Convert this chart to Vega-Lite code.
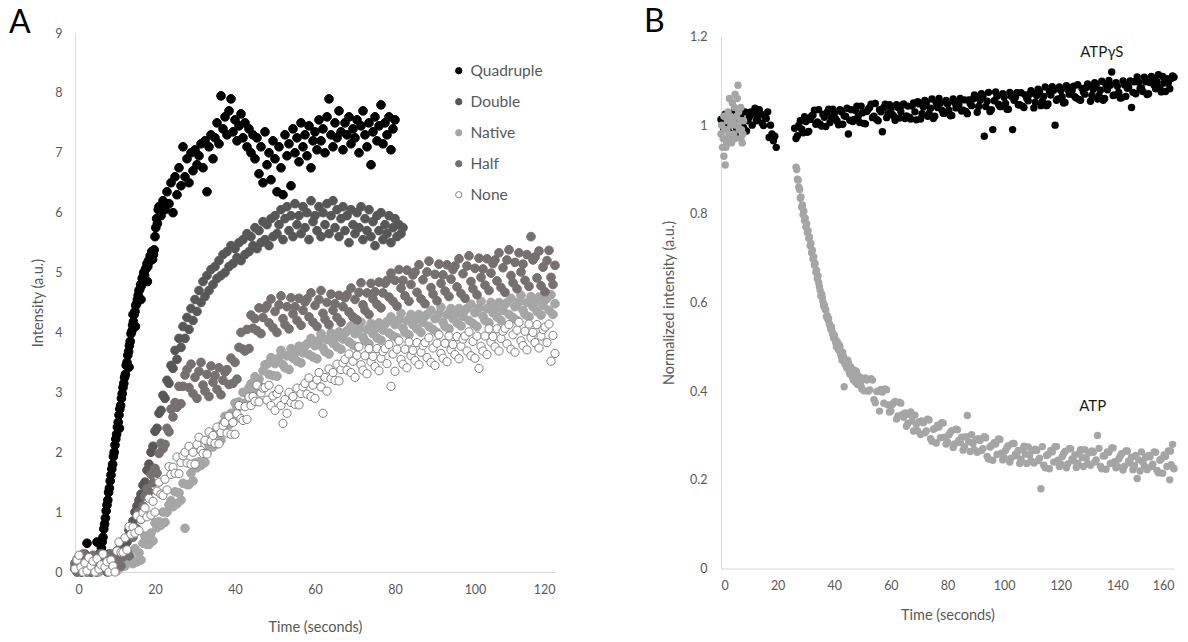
{
"$schema": "https://vega.github.io/schema/vega-lite/v6.json",
"padding": {"left": 9, "top": 5, "right": 0, "bottom": 5},
"background": "white",
"config": {
 "font": "Lato",
 "view": {"stroke": null},
 "axis": {"grid": false, "ticks": false, "domainColor": "#d9d9d9", "domainWidth": 1, "labelColor": "#595959", "titleColor": "#595959", "labelFontSize": 12.5, "titleFontSize": 14.5, "titleFontWeight": "normal", "labelFont": "Lato", "titleFont": "Lato"},
 "legend": {"orient": "none", "legendX": 376, "legendY": 30, "title": null, "labelFont": "Lato", "labelFontSize": 15.5, "labelColor": "#595959", "rowPadding": 14, "symbolSize": 40, "symbolStrokeWidth": 1, "labelOffset": 4, "symbolType": "circle"},
 "title": {"fontSize": 32, "fontWeight": "normal", "color": "#000000", "font": "Lato", "anchor": "start", "frame": "group", "offset": 0}
},
"datasets": {
"Q": [{"t":0,"v":0.05},{"t":0.5,"v":0.02},{"t":1,"v":0.1},{"t":1.5,"v":0},{"t":2,"v":0.08},{"t":2.5,"v":0.03},{"t":3,"v":0.48},{"t":3.5,"v":0.06},{"t":4,"v":0},{"t":4.5,"v":0.1},{"t":5,"v":0.04},{"t":5.5,"v":0.5},{"t":6,"v":0.12},{"t":6.4,"v":0.3},{"t":6.6,"v":0.4},{"t":6.8,"v":0.5},{"t":7.0,"v":0.58},{"t":7.2,"v":0.72},{"t":7.4,"v":0.8},{"t":7.6,"v":0.9},{"t":7.8,"v":1.02},{"t":8.0,"v":1.12},{"t":8.2,"v":1.2},{"t":8.4,"v":1.33},{"t":8.6,"v":1.4},{"t":8.8,"v":1.52},{"t":9.0,"v":1.62},{"t":9.2,"v":1.72},{"t":9.4,"v":1.8},{"t":9.6,"v":1.93},{"t":9.8,"v":2.0},{"t":10.0,"v":2.12},{"t":10.2,"v":2.22},{"t":10.4,"v":2.3},{"t":10.6,"v":2.42},{"t":10.8,"v":2.5},{"t":11.0,"v":2.62},{"t":11.1,"v":2.4},{"t":11.2,"v":2.72},{"t":11.4,"v":2.78},{"t":11.6,"v":2.9},{"t":11.8,"v":2.98},{"t":12.0,"v":3.08},{"t":12.2,"v":3.15},{"t":12.4,"v":3.25},{"t":12.6,"v":3.3},{"t":12.8,"v":3.45},{"t":13.0,"v":3.5},{"t":13.2,"v":3.62},{"t":13.4,"v":3.68},{"t":13.5,"v":3.42},{"t":13.6,"v":3.78},{"t":13.8,"v":3.85},{"t":14.0,"v":3.98},{"t":14.2,"v":4.02},{"t":14.4,"v":4.12},{"t":14.5,"v":4.3},{"t":14.6,"v":4.18},{"t":14.8,"v":4.3},{"t":15.0,"v":4.35},{"t":15.1,"v":4.1},{"t":15.2,"v":4.45},{"t":15.4,"v":4.48},{"t":15.6,"v":4.55},{"t":15.8,"v":4.62},{"t":16.0,"v":4.7},{"t":16.2,"v":4.72},{"t":16.4,"v":4.8},{"t":16.5,"v":4.55},{"t":16.6,"v":4.78},{"t":16.8,"v":4.9},{"t":17.0,"v":4.92},{"t":17.2,"v":5.0},{"t":17.4,"v":4.95},{"t":17.6,"v":5.05},{"t":17.8,"v":5.08},{"t":18.0,"v":5.15},{"t":18.1,"v":4.85},{"t":18.2,"v":5.1},{"t":18.4,"v":5.2},{"t":18.6,"v":5.18},{"t":18.8,"v":5.28},{"t":19.0,"v":5.25},{"t":19.2,"v":5.35},{"t":19.4,"v":5.22},{"t":19.6,"v":5.3},{"t":19.8,"v":5.38},{"t":20.0,"v":5.6},{"t":20.2,"v":5.75},{"t":20.4,"v":5.9},{"t":20.6,"v":5.82},{"t":20.8,"v":6.05},{"t":21,"v":6.1},{"t":21.5,"v":5.95},{"t":22,"v":6.2},{"t":22.5,"v":6.05},{"t":23,"v":6.35},{"t":23.5,"v":6.15},{"t":24,"v":6.5},{"t":24.5,"v":6.0},{"t":25,"v":6.6},{"t":25.5,"v":6.3},{"t":26,"v":6.75},{"t":26.5,"v":6.45},{"t":27,"v":7.1},{"t":27.5,"v":6.6},{"t":28,"v":6.9},{"t":28.5,"v":6.5},{"t":29,"v":7.0},{"t":29.5,"v":6.7},{"t":30,"v":7.05},{"t":30.5,"v":6.8},{"t":31,"v":6.95},{"t":31.5,"v":7.15},{"t":32,"v":6.75},{"t":32.5,"v":7.2},{"t":33,"v":6.35},{"t":33.5,"v":7.1},{"t":34,"v":7.3},{"t":34.5,"v":6.9},{"t":35,"v":7.25},{"t":35.5,"v":7.5},{"t":36,"v":7.15},{"t":36.5,"v":7.95},{"t":37,"v":7.4},{"t":37.5,"v":7.6},{"t":38,"v":7.3},{"t":38.5,"v":7.7},{"t":39,"v":7.9},{"t":39.5,"v":7.35},{"t":40,"v":7.55},{"t":40.5,"v":7.2},{"t":41,"v":7.45},{"t":41.5,"v":7.65},{"t":42,"v":7.25},{"t":42.5,"v":7.5},{"t":43,"v":7.1},{"t":43.5,"v":7.4},{"t":44,"v":7.0},{"t":44.5,"v":7.3},{"t":45,"v":6.9},{"t":45.5,"v":7.25},{"t":46,"v":6.65},{"t":46.5,"v":7.1},{"t":47,"v":6.5},{"t":47.5,"v":7.35},{"t":48,"v":6.8},{"t":48.5,"v":7.0},{"t":49,"v":6.55},{"t":49.5,"v":7.2},{"t":50,"v":6.9},{"t":50.5,"v":6.35},{"t":51,"v":7.1},{"t":51.5,"v":6.75},{"t":52,"v":6.3},{"t":52.5,"v":7.3},{"t":53,"v":6.95},{"t":53.5,"v":7.15},{"t":54,"v":6.45},{"t":54.5,"v":7.4},{"t":55,"v":7.0},{"t":55.5,"v":7.25},{"t":56,"v":6.85},{"t":56.5,"v":7.5},{"t":57,"v":7.1},{"t":57.5,"v":7.3},{"t":58,"v":6.95},{"t":58.5,"v":7.45},{"t":59,"v":6.75},{"t":59.5,"v":7.2},{"t":60,"v":7.35},{"t":60.5,"v":7.05},{"t":61,"v":7.55},{"t":61.5,"v":7.2},{"t":62,"v":7.4},{"t":62.5,"v":7.0},{"t":63,"v":7.6},{"t":63.5,"v":7.9},{"t":64,"v":7.3},{"t":64.5,"v":7.1},{"t":65,"v":7.5},{"t":65.5,"v":7.25},{"t":66,"v":7.7},{"t":66.5,"v":7.35},{"t":67,"v":7.05},{"t":67.5,"v":7.5},{"t":68,"v":7.3},{"t":68.5,"v":7.6},{"t":69,"v":7.15},{"t":69.5,"v":7.4},{"t":70,"v":7.25},{"t":70.5,"v":7.55},{"t":71,"v":7.0},{"t":71.5,"v":7.45},{"t":72,"v":7.7},{"t":72.5,"v":7.3},{"t":73,"v":7.1},{"t":73.5,"v":7.5},{"t":74,"v":6.8},{"t":74.5,"v":7.35},{"t":75,"v":7.6},{"t":75.5,"v":7.2},{"t":76,"v":7.45},{"t":76.5,"v":7.8},{"t":77,"v":7.15},{"t":77.5,"v":7.5},{"t":78,"v":7.3},{"t":78.5,"v":7.6},{"t":79,"v":7.05},{"t":79.5,"v":7.4},{"t":80,"v":7.55}],
"D": [{"t":0,"v":0.1},{"t":0.5,"v":0},{"t":1,"v":0.2},{"t":1.5,"v":0.05},{"t":2,"v":0.15},{"t":2.5,"v":0.3},{"t":3,"v":0},{"t":3.5,"v":0.1},{"t":4,"v":0.25},{"t":4.5,"v":0.05},{"t":5,"v":0.2},{"t":5.5,"v":0},{"t":6,"v":0.3},{"t":6.5,"v":0.1},{"t":7,"v":0.2},{"t":7.5,"v":0.05},{"t":8,"v":0.15},{"t":8.5,"v":0.3},{"t":9,"v":0.1},{"t":9.5,"v":0.25},{"t":10,"v":0.2},{"t":10.5,"v":0.35},{"t":11,"v":0.3},{"t":11.5,"v":0.45},{"t":12,"v":0.4},{"t":12.5,"v":0.55},{"t":13,"v":0.5},{"t":13.5,"v":0.7},{"t":14,"v":0.75},{"t":14.5,"v":0.85},{"t":15,"v":1.0},{"t":15.5,"v":1.1},{"t":16,"v":1.2},{"t":16.5,"v":1.3},{"t":17,"v":1.45},{"t":17.5,"v":1.5},{"t":18,"v":1.7},{"t":18.5,"v":1.8},{"t":19,"v":2.0},{"t":19.5,"v":2.1},{"t":20,"v":2.35},{"t":20.5,"v":2.4},{"t":21,"v":2.65},{"t":21.5,"v":2.7},{"t":22,"v":2.95},{"t":22.5,"v":2.9},{"t":23,"v":3.2},{"t":23.5,"v":3.15},{"t":24,"v":3.45},{"t":24.5,"v":3.4},{"t":25,"v":3.7},{"t":25.5,"v":3.55},{"t":26,"v":3.9},{"t":26.5,"v":3.75},{"t":27,"v":4.1},{"t":27.5,"v":3.9},{"t":28,"v":4.25},{"t":28.5,"v":4.05},{"t":29,"v":4.4},{"t":29.5,"v":4.2},{"t":30,"v":4.55},{"t":30.5,"v":4.35},{"t":31,"v":4.7},{"t":31.5,"v":4.5},{"t":32,"v":4.85},{"t":32.5,"v":4.6},{"t":33,"v":4.95},{"t":33.5,"v":4.7},{"t":34,"v":5.05},{"t":34.5,"v":4.8},{"t":35,"v":5.1},{"t":35.5,"v":4.9},{"t":36,"v":5.2},{"t":36.5,"v":4.95},{"t":37,"v":5.3},{"t":37.5,"v":5.0},{"t":38,"v":5.35},{"t":38.5,"v":5.1},{"t":39,"v":5.45},{"t":39.5,"v":5.15},{"t":40,"v":5.4},{"t":40.5,"v":5.25},{"t":41,"v":5.5},{"t":41.5,"v":5.2},{"t":42,"v":5.55},{"t":42.5,"v":5.3},{"t":43,"v":5.65},{"t":43.5,"v":5.35},{"t":44,"v":5.6},{"t":44.5,"v":5.45},{"t":45,"v":5.75},{"t":45.5,"v":5.4},{"t":46,"v":5.7},{"t":46.5,"v":5.5},{"t":47,"v":5.85},{"t":47.5,"v":5.55},{"t":48,"v":5.8},{"t":48.5,"v":5.45},{"t":49,"v":5.9},{"t":49.5,"v":5.6},{"t":50,"v":5.95},{"t":50.5,"v":5.65},{"t":51,"v":5.8},{"t":51.5,"v":6.05},{"t":52,"v":5.55},{"t":52.5,"v":5.9},{"t":53,"v":6.1},{"t":53.5,"v":5.7},{"t":54,"v":5.95},{"t":54.5,"v":5.6},{"t":55,"v":6.15},{"t":55.5,"v":5.8},{"t":56,"v":5.95},{"t":56.5,"v":5.65},{"t":57,"v":6.1},{"t":57.5,"v":5.75},{"t":58,"v":6.0},{"t":58.5,"v":5.55},{"t":59,"v":6.2},{"t":59.5,"v":5.85},{"t":60,"v":5.95},{"t":60.5,"v":5.7},{"t":61,"v":6.1},{"t":61.5,"v":5.6},{"t":62,"v":6.0},{"t":62.5,"v":5.8},{"t":63,"v":6.15},{"t":63.5,"v":5.65},{"t":64,"v":5.95},{"t":64.5,"v":6.2},{"t":65,"v":5.75},{"t":65.5,"v":6.05},{"t":66,"v":5.6},{"t":66.5,"v":5.9},{"t":67,"v":6.1},{"t":67.5,"v":5.7},{"t":68,"v":5.95},{"t":68.5,"v":5.5},{"t":69,"v":6.05},{"t":69.5,"v":5.8},{"t":70,"v":5.65},{"t":70.5,"v":6.0},{"t":71,"v":5.75},{"t":71.5,"v":6.1},{"t":72,"v":5.55},{"t":72.5,"v":5.9},{"t":73,"v":5.7},{"t":73.5,"v":6.05},{"t":74,"v":5.6},{"t":74.5,"v":5.85},{"t":75,"v":5.45},{"t":75.5,"v":5.95},{"t":76,"v":5.7},{"t":76.5,"v":6.0},{"t":77,"v":5.55},{"t":77.5,"v":5.8},{"t":78,"v":5.65},{"t":78.5,"v":5.95},{"t":79,"v":5.5},{"t":79.5,"v":5.75},{"t":80,"v":5.9},{"t":80.5,"v":5.6},{"t":81,"v":5.8},{"t":81.5,"v":5.65},{"t":82,"v":5.75}],
"N": [{"t":0,"v":0.1},{"t":0.5,"v":0.22},{"t":1,"v":0},{"t":1.5,"v":0.15},{"t":2,"v":0.05},{"t":2.5,"v":0.25},{"t":3,"v":0.1},{"t":3.5,"v":0},{"t":4,"v":0.18},{"t":4.5,"v":0.06},{"t":5,"v":0.22},{"t":5.5,"v":0.12},{"t":6,"v":0},{"t":6.5,"v":0.15},{"t":7,"v":0.08},{"t":7.5,"v":0.24},{"t":8,"v":0.02},{"t":8.5,"v":0.16},{"t":9,"v":0.05},{"t":9.5,"v":0.2},{"t":10,"v":0.1},{"t":10.5,"v":0.02},{"t":11,"v":0.18},{"t":11.5,"v":0.08},{"t":12,"v":0.25},{"t":12.5,"v":0.1},{"t":13,"v":0.2},{"t":13.5,"v":0.3},{"t":14,"v":0.24},{"t":14.5,"v":0.14},{"t":15,"v":0.39},{"t":15.5,"v":0.17},{"t":16,"v":0.32},{"t":16.5,"v":0.2},{"t":17,"v":0.48},{"t":17.5,"v":0.6},{"t":18,"v":0.46},{"t":18.5,"v":0.46},{"t":19,"v":0.65},{"t":19.5,"v":0.52},{"t":20,"v":0.82},{"t":20.5,"v":0.74},{"t":21,"v":0.84},{"t":21.5,"v":0.78},{"t":22,"v":1.0},{"t":22.5,"v":0.83},{"t":23,"v":1.0},{"t":23.5,"v":1.12},{"t":24,"v":1.19},{"t":24.5,"v":1.09},{"t":25,"v":1.34},{"t":25.5,"v":1.14},{"t":26,"v":1.32},{"t":26.5,"v":1.2},{"t":27,"v":1.48},{"t":27.5,"v":0.73},{"t":28,"v":1.46},{"t":28.5,"v":1.46},{"t":29,"v":1.65},{"t":29.5,"v":1.52},{"t":30,"v":1.82},{"t":30.5,"v":1.74},{"t":31,"v":1.84},{"t":31.5,"v":1.78},{"t":32,"v":2.0},{"t":32.5,"v":1.83},{"t":33,"v":2.0},{"t":33.5,"v":2.12},{"t":34,"v":2.19},{"t":34.5,"v":2.09},{"t":35,"v":2.34},{"t":35.5,"v":2.14},{"t":36,"v":2.32},{"t":36.5,"v":2.2},{"t":37,"v":2.48},{"t":37.5,"v":2.6},{"t":38,"v":2.46},{"t":38.5,"v":2.46},{"t":39,"v":2.65},{"t":39.5,"v":2.52},{"t":40,"v":2.82},{"t":40.5,"v":2.74},{"t":41,"v":2.84},{"t":41.5,"v":2.78},{"t":42,"v":3.0},{"t":42.5,"v":2.82},{"t":43,"v":2.98},{"t":43.5,"v":3.08},{"t":44,"v":3.14},{"t":44.5,"v":3.03},{"t":45,"v":3.26},{"t":45.5,"v":3.05},{"t":46,"v":3.22},{"t":46.5,"v":3.09},{"t":47,"v":3.36},{"t":47.5,"v":3.46},{"t":48,"v":3.47},{"t":48.5,"v":3.3},{"t":49,"v":3.58},{"t":49.5,"v":3.28},{"t":50,"v":3.48},{"t":50.5,"v":3.27},{"t":51,"v":3.58},{"t":51.5,"v":3.7},{"t":52,"v":3.46},{"t":52.5,"v":3.41},{"t":53,"v":3.61},{"t":53.5,"v":3.38},{"t":54,"v":3.73},{"t":54.5,"v":3.57},{"t":55,"v":3.65},{"t":55.5,"v":3.52},{"t":56,"v":3.77},{"t":56.5,"v":3.49},{"t":57,"v":3.66},{"t":57.5,"v":3.77},{"t":58,"v":3.81},{"t":58.5,"v":3.63},{"t":59,"v":3.9},{"t":59.5,"v":3.59},{"t":60,"v":3.78},{"t":60.5,"v":3.56},{"t":61,"v":3.87},{"t":61.5,"v":3.98},{"t":62,"v":3.74},{"t":62.5,"v":3.68},{"t":63,"v":3.88},{"t":63.5,"v":3.64},{"t":64,"v":3.99},{"t":64.5,"v":3.82},{"t":65,"v":3.9},{"t":65.5,"v":3.76},{"t":66,"v":4.01},{"t":66.5,"v":3.72},{"t":67,"v":3.89},{"t":67.5,"v":3.99},{"t":68,"v":4.03},{"t":68.5,"v":3.84},{"t":69,"v":4.11},{"t":69.5,"v":3.79},{"t":70,"v":3.98},{"t":70.5,"v":3.76},{"t":71,"v":4.06},{"t":71.5,"v":4.17},{"t":72,"v":3.92},{"t":72.5,"v":3.86},{"t":73,"v":4.05},{"t":73.5,"v":3.81},{"t":74,"v":4.15},{"t":74.5,"v":3.98},{"t":75,"v":4.05},{"t":75.5,"v":3.91},{"t":76,"v":4.16},{"t":76.5,"v":3.87},{"t":77,"v":4.04},{"t":77.5,"v":4.14},{"t":78,"v":4.18},{"t":78.5,"v":3.99},{"t":79,"v":4.26},{"t":79.5,"v":3.94},{"t":80,"v":4.13},{"t":80.5,"v":3.91},{"t":81,"v":4.21},{"t":81.5,"v":4.32},{"t":82,"v":4.07},{"t":82.5,"v":4.0},{"t":83,"v":4.2},{"t":83.5,"v":3.96},{"t":84,"v":4.3},{"t":84.5,"v":4.13},{"t":85,"v":4.2},{"t":85.5,"v":4.06},{"t":86,"v":4.3},{"t":86.5,"v":4.0},{"t":87,"v":4.17},{"t":87.5,"v":4.27},{"t":88,"v":4.3},{"t":88.5,"v":4.1},{"t":89,"v":4.37},{"t":89.5,"v":4.05},{"t":90,"v":4.23},{"t":90.5,"v":4.0},{"t":91,"v":4.31},{"t":91.5,"v":4.42},{"t":92,"v":4.17},{"t":92.5,"v":4.1},{"t":93,"v":4.3},{"t":93.5,"v":4.06},{"t":94,"v":4.4},{"t":94.5,"v":4.23},{"t":95,"v":4.3},{"t":95.5,"v":4.16},{"t":96,"v":4.4},{"t":96.5,"v":4.11},{"t":97,"v":4.27},{"t":97.5,"v":4.37},{"t":98,"v":4.4},{"t":98.5,"v":4.2},{"t":99,"v":4.47},{"t":99.5,"v":4.15},{"t":100,"v":4.33},{"t":100.5,"v":4.1},{"t":101,"v":4.41},{"t":101.5,"v":4.52},{"t":102,"v":4.27},{"t":102.5,"v":4.2},{"t":103,"v":4.4},{"t":103.5,"v":4.16},{"t":104,"v":4.5},{"t":104.5,"v":4.33},{"t":105,"v":4.4},{"t":105.5,"v":4.26},{"t":106,"v":4.5},{"t":106.5,"v":4.2},{"t":107,"v":4.37},{"t":107.5,"v":4.47},{"t":108,"v":4.5},{"t":108.5,"v":4.3},{"t":109,"v":4.57},{"t":109.5,"v":4.25},{"t":110,"v":4.43},{"t":110.5,"v":4.2},{"t":111,"v":4.51},{"t":111.5,"v":4.62},{"t":112,"v":4.37},{"t":112.5,"v":4.3},{"t":113,"v":4.5},{"t":113.5,"v":4.26},{"t":114,"v":4.6},{"t":114.5,"v":4.43},{"t":115,"v":4.5},{"t":115.5,"v":4.35},{"t":116,"v":4.59},{"t":116.5,"v":4.29},{"t":117,"v":4.45},{"t":117.5,"v":4.54},{"t":118,"v":4.57},{"t":118.5,"v":4.37},{"t":119,"v":4.63},{"t":119.5,"v":4.3},{"t":120,"v":4.48}],
"H": [{"t":0,"v":0.15},{"t":0.5,"v":0},{"t":1,"v":0.25},{"t":1.5,"v":0.1},{"t":2,"v":0.3},{"t":2.5,"v":0.05},{"t":3,"v":0.2},{"t":3.5,"v":0.12},{"t":4,"v":0},{"t":4.5,"v":0.28},{"t":5,"v":0.1},{"t":5.5,"v":0.18},{"t":6,"v":0.05},{"t":6.5,"v":0.3},{"t":7,"v":0.12},{"t":7.5,"v":0.22},{"t":8,"v":0},{"t":8.5,"v":0.15},{"t":9,"v":0.3},{"t":9.5,"v":0.08},{"t":10,"v":0.2},{"t":10.5,"v":0.12},{"t":11,"v":0.32},{"t":11.5,"v":0.1},{"t":12,"v":0.25},{"t":12.5,"v":0.35},{"t":13,"v":0.35},{"t":13.5,"v":0.27},{"t":14,"v":0.62},{"t":14.5,"v":0.58},{"t":15,"v":0.74},{"t":15.5,"v":0.72},{"t":16,"v":1.0},{"t":16.5,"v":0.88},{"t":17,"v":1.1},{"t":17.5,"v":1.27},{"t":18,"v":1.39},{"t":18.5,"v":1.34},{"t":19,"v":1.63},{"t":19.5,"v":1.49},{"t":20,"v":1.73},{"t":20.5,"v":1.65},{"t":21,"v":1.98},{"t":21.5,"v":2.15},{"t":22,"v":2.06},{"t":22.5,"v":2.13},{"t":23,"v":2.4},{"t":23.5,"v":2.34},{"t":24,"v":2.72},{"t":24.5,"v":2.59},{"t":25,"v":2.83},{"t":25.5,"v":2.75},{"t":26,"v":3.1},{"t":26.5,"v":2.81},{"t":27,"v":3.1},{"t":27.5,"v":3.29},{"t":28,"v":3.38},{"t":28.5,"v":3.08},{"t":29,"v":3.47},{"t":29.5,"v":2.98},{"t":30,"v":3.25},{"t":30.5,"v":2.9},{"t":31,"v":3.35},{"t":31.5,"v":3.5},{"t":32,"v":3.12},{"t":32.5,"v":3.02},{"t":33,"v":3.3},{"t":33.5,"v":2.93},{"t":34,"v":3.44},{"t":34.5,"v":3.17},{"t":35,"v":3.28},{"t":35.5,"v":3.05},{"t":36,"v":3.41},{"t":36.5,"v":2.96},{"t":37,"v":3.2},{"t":37.5,"v":3.34},{"t":38,"v":3.38},{"t":38.5,"v":3.13},{"t":39,"v":3.57},{"t":39.5,"v":3.15},{"t":40,"v":3.5},{"t":40.5,"v":3.22},{"t":41,"v":3.75},{"t":41.5,"v":4.0},{"t":42,"v":3.72},{"t":42.5,"v":3.69},{"t":43,"v":4.05},{"t":43.5,"v":3.73},{"t":44,"v":4.29},{"t":44.5,"v":4.07},{"t":45,"v":4.23},{"t":45.5,"v":4.03},{"t":46,"v":4.41},{"t":46.5,"v":3.98},{"t":47,"v":4.25},{"t":47.5,"v":4.4},{"t":48,"v":4.45},{"t":48.5,"v":4.16},{"t":49,"v":4.56},{"t":49.5,"v":4.08},{"t":50,"v":4.35},{"t":50.5,"v":4.0},{"t":51,"v":4.46},{"t":51.5,"v":4.61},{"t":52,"v":4.23},{"t":52.5,"v":4.13},{"t":53,"v":4.43},{"t":53.5,"v":4.06},{"t":54,"v":4.58},{"t":54.5,"v":4.31},{"t":55,"v":4.43},{"t":55.5,"v":4.2},{"t":56,"v":4.57},{"t":56.5,"v":4.12},{"t":57,"v":4.37},{"t":57.5,"v":4.51},{"t":58,"v":4.56},{"t":58.5,"v":4.26},{"t":59,"v":4.66},{"t":59.5,"v":4.17},{"t":60,"v":4.45},{"t":60.5,"v":4.1},{"t":61,"v":4.55},{"t":61.5,"v":4.7},{"t":62,"v":4.32},{"t":62.5,"v":4.22},{"t":63,"v":4.5},{"t":63.5,"v":4.13},{"t":64,"v":4.64},{"t":64.5,"v":4.37},{"t":65,"v":4.48},{"t":65.5,"v":4.25},{"t":66,"v":4.62},{"t":66.5,"v":4.17},{"t":67,"v":4.43},{"t":67.5,"v":4.58},{"t":68,"v":4.63},{"t":68.5,"v":4.34},{"t":69,"v":4.74},{"t":69.5,"v":4.26},{"t":70,"v":4.55},{"t":70.5,"v":4.21},{"t":71,"v":4.67},{"t":71.5,"v":4.83},{"t":72,"v":4.46},{"t":72.5,"v":4.37},{"t":73,"v":4.66},{"t":73.5,"v":4.3},{"t":74,"v":4.82},{"t":74.5,"v":4.56},{"t":75,"v":4.68},{"t":75.5,"v":4.47},{"t":76,"v":4.84},{"t":76.5,"v":4.41},{"t":77,"v":4.66},{"t":77.5,"v":4.82},{"t":78,"v":4.87},{"t":78.5,"v":4.59},{"t":79,"v":4.99},{"t":79.5,"v":4.52},{"t":80,"v":4.87},{"t":80.5,"v":4.44},{"t":81,"v":5.05},{"t":81.5,"v":4.74},{"t":82,"v":4.87},{"t":82.5,"v":4.61},{"t":83,"v":5.04},{"t":83.5,"v":4.52},{"t":84,"v":4.8},{"t":84.5,"v":4.96},{"t":85,"v":5.01},{"t":85.5,"v":4.67},{"t":86,"v":5.13},{"t":86.5,"v":4.56},{"t":87,"v":4.88},{"t":87.5,"v":4.48},{"t":88,"v":5.01},{"t":88.5,"v":5.19},{"t":89,"v":4.75},{"t":89.5,"v":4.64},{"t":90,"v":4.97},{"t":90.5,"v":4.53},{"t":91,"v":5.14},{"t":91.5,"v":4.82},{"t":92,"v":4.96},{"t":92.5,"v":4.69},{"t":93,"v":5.13},{"t":93.5,"v":4.6},{"t":94,"v":4.89},{"t":94.5,"v":5.05},{"t":95,"v":5.11},{"t":95.5,"v":4.76},{"t":96,"v":5.23},{"t":96.5,"v":4.65},{"t":97,"v":4.98},{"t":97.5,"v":4.57},{"t":98,"v":5.11},{"t":98.5,"v":5.28},{"t":99,"v":4.85},{"t":99.5,"v":4.73},{"t":100,"v":5.07},{"t":100.5,"v":4.63},{"t":101,"v":5.24},{"t":101.5,"v":4.92},{"t":102,"v":5.06},{"t":102.5,"v":4.79},{"t":103,"v":5.23},{"t":103.5,"v":4.7},{"t":104,"v":4.99},{"t":104.5,"v":5.15},{"t":105,"v":5.21},{"t":105.5,"v":4.86},{"t":106,"v":5.33},{"t":106.5,"v":4.75},{"t":107,"v":5.08},{"t":107.5,"v":4.67},{"t":108,"v":5.21},{"t":108.5,"v":5.38},{"t":109,"v":4.95},{"t":109.5,"v":4.83},{"t":110,"v":5.17},{"t":110.5,"v":4.73},{"t":111,"v":5.33},{"t":111.5,"v":5.01},{"t":112,"v":5.14},{"t":112.5,"v":4.87},{"t":113,"v":5.3},{"t":113.5,"v":4.77},{"t":114,"v":5.6},{"t":114.5,"v":5.21},{"t":115,"v":5.26},{"t":115.5,"v":4.91},{"t":116,"v":5.36},{"t":116.5,"v":4.78},{"t":117,"v":5.09},{"t":117.5,"v":4.68},{"t":118,"v":5.2},{"t":118.5,"v":5.37},{"t":119,"v":4.92},{"t":119.5,"v":4.8},{"t":120,"v":5.12}],
"O": [{"t":0,"v":0.05},{"t":0.5,"v":0.2},{"t":1,"v":0.28},{"t":1.5,"v":0.08},{"t":2,"v":0},{"t":2.5,"v":0.15},{"t":3,"v":0.02},{"t":3.5,"v":0.24},{"t":4,"v":0.1},{"t":4.5,"v":0.18},{"t":5,"v":0},{"t":5.5,"v":0.22},{"t":6,"v":0.05},{"t":6.5,"v":0.12},{"t":7,"v":0.3},{"t":7.5,"v":0.08},{"t":8,"v":0.17},{"t":8.5,"v":0},{"t":9,"v":0.2},{"t":9.5,"v":0.1},{"t":10,"v":0},{"t":10.5,"v":0.35},{"t":11,"v":0.5},{"t":11.5,"v":0.33},{"t":12,"v":0.33},{"t":12.5,"v":0.57},{"t":13,"v":0.37},{"t":13.5,"v":0.76},{"t":14,"v":0.63},{"t":14.5,"v":0.75},{"t":15,"v":0.65},{"t":15.5,"v":0.94},{"t":16,"v":0.69},{"t":16.5,"v":0.88},{"t":17,"v":0.99},{"t":17.5,"v":1.07},{"t":18,"v":0.92},{"t":18.5,"v":1.23},{"t":19,"v":0.95},{"t":19.5,"v":1.18},{"t":20,"v":1.0},{"t":20.5,"v":1.35},{"t":21,"v":1.5},{"t":21.5,"v":1.3},{"t":22,"v":1.28},{"t":22.5,"v":1.55},{"t":23,"v":1.37},{"t":23.5,"v":1.76},{"t":24,"v":1.63},{"t":24.5,"v":1.75},{"t":25,"v":1.65},{"t":25.5,"v":1.92},{"t":26,"v":1.64},{"t":26.5,"v":1.83},{"t":27,"v":1.94},{"t":27.5,"v":2.0},{"t":28,"v":1.82},{"t":28.5,"v":2.1},{"t":29,"v":1.8},{"t":29.5,"v":2.0},{"t":30,"v":1.8},{"t":30.5,"v":2.13},{"t":31,"v":2.25},{"t":31.5,"v":2.03},{"t":32,"v":1.98},{"t":32.5,"v":2.2},{"t":33,"v":1.97},{"t":33.5,"v":2.34},{"t":34,"v":2.18},{"t":34.5,"v":2.28},{"t":35,"v":2.15},{"t":35.5,"v":2.42},{"t":36,"v":2.14},{"t":36.5,"v":2.33},{"t":37,"v":2.44},{"t":37.5,"v":2.5},{"t":38,"v":2.32},{"t":38.5,"v":2.6},{"t":39,"v":2.3},{"t":39.5,"v":2.5},{"t":40,"v":2.3},{"t":40.5,"v":2.64},{"t":41,"v":2.78},{"t":41.5,"v":2.56},{"t":42,"v":2.53},{"t":42.5,"v":2.76},{"t":43,"v":2.55},{"t":43.5,"v":2.92},{"t":44,"v":2.78},{"t":44.5,"v":2.93},{"t":45,"v":2.85},{"t":45.5,"v":3.12},{"t":46,"v":2.84},{"t":46.5,"v":2.99},{"t":47,"v":3.07},{"t":47.5,"v":3.08},{"t":48,"v":2.87},{"t":48.5,"v":3.12},{"t":49,"v":2.78},{"t":49.5,"v":2.94},{"t":50,"v":2.7},{"t":50.5,"v":2.98},{"t":51,"v":3.05},{"t":51.5,"v":2.78},{"t":52,"v":2.48},{"t":52.5,"v":2.88},{"t":53,"v":2.65},{"t":53.5,"v":3.0},{"t":54,"v":2.83},{"t":54.5,"v":2.93},{"t":55,"v":2.8},{"t":55.5,"v":3.07},{"t":56,"v":2.79},{"t":56.5,"v":2.98},{"t":57,"v":3.09},{"t":57.5,"v":3.15},{"t":58,"v":2.97},{"t":58.5,"v":3.24},{"t":59,"v":2.93},{"t":59.5,"v":3.12},{"t":60,"v":2.9},{"t":60.5,"v":3.21},{"t":61,"v":3.33},{"t":61.5,"v":3.09},{"t":62,"v":2.65},{"t":62.5,"v":3.25},{"t":63,"v":3.02},{"t":63.5,"v":3.39},{"t":64,"v":3.23},{"t":64.5,"v":3.33},{"t":65,"v":3.2},{"t":65.5,"v":3.47},{"t":66,"v":3.19},{"t":66.5,"v":3.38},{"t":67,"v":3.49},{"t":67.5,"v":3.55},{"t":68,"v":3.37},{"t":68.5,"v":3.64},{"t":69,"v":3.33},{"t":69.5,"v":3.52},{"t":70,"v":3.25},{"t":70.5,"v":3.62},{"t":71,"v":3.76},{"t":71.5,"v":3.46},{"t":72,"v":3.37},{"t":72.5,"v":3.61},{"t":73,"v":3.31},{"t":73.5,"v":3.73},{"t":74,"v":3.51},{"t":74.5,"v":3.6},{"t":75,"v":3.43},{"t":75.5,"v":3.73},{"t":76,"v":3.36},{"t":76.5,"v":3.57},{"t":77,"v":3.68},{"t":77.5,"v":3.73},{"t":78,"v":3.48},{"t":78.5,"v":3.8},{"t":79,"v":3.1},{"t":79.5,"v":3.64},{"t":80,"v":3.35},{"t":80.5,"v":3.72},{"t":81,"v":3.86},{"t":81.5,"v":3.55},{"t":82,"v":3.47},{"t":82.5,"v":3.72},{"t":83,"v":3.41},{"t":83.5,"v":3.84},{"t":84,"v":3.61},{"t":84.5,"v":3.7},{"t":85,"v":3.53},{"t":85.5,"v":3.83},{"t":86,"v":3.46},{"t":86.5,"v":3.67},{"t":87,"v":3.78},{"t":87.5,"v":3.83},{"t":88,"v":3.58},{"t":88.5,"v":3.91},{"t":89,"v":3.5},{"t":89.5,"v":3.74},{"t":90,"v":3.45},{"t":90.5,"v":3.82},{"t":91,"v":3.96},{"t":91.5,"v":3.65},{"t":92,"v":3.57},{"t":92.5,"v":3.82},{"t":93,"v":3.51},{"t":93.5,"v":3.94},{"t":94,"v":3.71},{"t":94.5,"v":3.8},{"t":95,"v":3.63},{"t":95.5,"v":3.93},{"t":96,"v":3.56},{"t":96.5,"v":3.77},{"t":97,"v":3.89},{"t":97.5,"v":3.94},{"t":98,"v":3.69},{"t":98.5,"v":4.01},{"t":99,"v":3.61},{"t":99.5,"v":3.85},{"t":100,"v":3.57},{"t":100.5,"v":3.94},{"t":101,"v":3.4},{"t":101.5,"v":3.77},{"t":102,"v":3.69},{"t":102.5,"v":3.94},{"t":103,"v":3.63},{"t":103.5,"v":4.06},{"t":104,"v":3.84},{"t":104.5,"v":3.93},{"t":105,"v":3.76},{"t":105.5,"v":4.06},{"t":106,"v":3.69},{"t":106.5,"v":3.9},{"t":107,"v":4.02},{"t":107.5,"v":4.07},{"t":108,"v":3.81},{"t":108.5,"v":4.13},{"t":109,"v":3.72},{"t":109.5,"v":3.96},{"t":110,"v":3.67},{"t":110.5,"v":4.04},{"t":111,"v":4.17},{"t":111.5,"v":3.86},{"t":112,"v":3.78},{"t":112.5,"v":4.02},{"t":113,"v":3.71},{"t":113.5,"v":4.14},{"t":114,"v":3.91},{"t":114.5,"v":4.0},{"t":115,"v":3.83},{"t":115.5,"v":4.13},{"t":116,"v":3.74},{"t":116.5,"v":3.94},{"t":117,"v":4.05},{"t":117.5,"v":4.09},{"t":118,"v":3.83},{"t":118.5,"v":4.14},{"t":119,"v":3.52},{"t":119.5,"v":3.95},{"t":120,"v":3.65}],
"G": [{"t":0,"v":1.013},{"t":0.5,"v":1.0},{"t":1,"v":0.991},{"t":1.5,"v":1.025},{"t":2,"v":1.02},{"t":2.5,"v":0.995},{"t":3,"v":0.983},{"t":3.5,"v":1.015},{"t":4,"v":1.003},{"t":4.5,"v":1.03},{"t":5,"v":0.978},{"t":5.5,"v":0.99},{"t":6,"v":1.011},{"t":6.5,"v":1.025},{"t":7,"v":1.022},{"t":7.5,"v":1.005},{"t":8,"v":0.994},{"t":8.5,"v":1.03},{"t":9,"v":0.987},{"t":9.5,"v":1.01},{"t":10,"v":1.018},{"t":10.5,"v":1.03},{"t":11,"v":1.0},{"t":11.5,"v":1.025},{"t":12,"v":1.038},{"t":12.5,"v":1.01},{"t":13,"v":1.018},{"t":13.5,"v":1.035},{"t":14,"v":1.026},{"t":14.5,"v":1.005},{"t":15,"v":0.999},{"t":15.5,"v":1.02},{"t":16,"v":1.015},{"t":16.5,"v":1.03},{"t":17,"v":0.972},{"t":17.5,"v":1.0},{"t":18,"v":0.98},{"t":18.5,"v":0.965},{"t":19,"v":0.975},{"t":19.5,"v":0.95},{"t":26,"v":0.993},{"t":26.5,"v":0.97},{"t":27,"v":0.976},{"t":27.5,"v":1.0},{"t":28,"v":1.01},{"t":28.5,"v":0.991},{"t":29,"v":0.983},{"t":29.5,"v":1.019},{"t":30,"v":1.008},{"t":30.5,"v":0.984},{"t":31,"v":0.986},{"t":31.5,"v":1.013},{"t":32,"v":1.021},{"t":32.5,"v":1.023},{"t":33,"v":1.034},{"t":33.5,"v":1.002},{"t":34,"v":1.007},{"t":34.5,"v":1.035},{"t":35,"v":1.002},{"t":35.5,"v":0.998},{"t":36,"v":1.024},{"t":36.5,"v":1.018},{"t":37,"v":0.997},{"t":37.5,"v":1.029},{"t":38,"v":1.036},{"t":38.5,"v":1.006},{"t":39,"v":1.017},{"t":39.5,"v":1.036},{"t":40,"v":1.026},{"t":40.5,"v":1.014},{"t":41,"v":1.009},{"t":41.5,"v":1.001},{"t":42,"v":1.035},{"t":42.5,"v":1.03},{"t":43,"v":1.002},{"t":43.5,"v":1.021},{"t":44,"v":1.02},{"t":44.5,"v":1.038},{"t":45,"v":0.98},{"t":45.5,"v":1.011},{"t":46,"v":1.035},{"t":46.5,"v":1.008},{"t":47,"v":1.013},{"t":47.5,"v":1.033},{"t":48,"v":1.043},{"t":48.5,"v":1.02},{"t":49,"v":1.006},{"t":49.5,"v":1.043},{"t":50,"v":1.028},{"t":50.5,"v":1.004},{"t":51,"v":1.003},{"t":51.5,"v":1.031},{"t":52,"v":1.036},{"t":52.5,"v":1.04},{"t":53,"v":1.047},{"t":53.5,"v":1.017},{"t":54,"v":1.02},{"t":54.5,"v":1.049},{"t":55,"v":1.013},{"t":55.5,"v":1.01},{"t":56,"v":1.035},{"t":56.5,"v":1.03},{"t":57,"v":0.985},{"t":57.5,"v":1.04},{"t":58,"v":1.047},{"t":58.5,"v":1.017},{"t":59,"v":1.026},{"t":59.5,"v":1.046},{"t":60,"v":1.036},{"t":60.5,"v":1.024},{"t":61,"v":1.02},{"t":61.5,"v":1.011},{"t":62,"v":1.046},{"t":62.5,"v":1.04},{"t":63,"v":1.016},{"t":63.5,"v":1.031},{"t":64,"v":1.045},{"t":64.5,"v":1.048},{"t":65,"v":1.015},{"t":65.5,"v":1.021},{"t":66,"v":1.043},{"t":66.5,"v":1.018},{"t":67,"v":1.014},{"t":67.5,"v":1.043},{"t":68,"v":1.05},{"t":68.5,"v":1.03},{"t":69,"v":1.012},{"t":69.5,"v":1.053},{"t":70,"v":1.048},{"t":70.5,"v":1.014},{"t":71,"v":1.026},{"t":71.5,"v":1.041},{"t":72,"v":1.056},{"t":72.5,"v":1.05},{"t":73,"v":1.02},{"t":73.5,"v":1.027},{"t":74,"v":1.038},{"t":74.5,"v":1.059},{"t":75,"v":1.015},{"t":75.5,"v":1.02},{"t":76,"v":1.05},{"t":76.5,"v":1.04},{"t":77,"v":1.06},{"t":77.5,"v":1.05},{"t":78,"v":1.034},{"t":78.5,"v":1.027},{"t":79,"v":1.027},{"t":79.5,"v":1.056},{"t":80,"v":1.048},{"t":80.5,"v":1.034},{"t":81,"v":1.021},{"t":81.5,"v":1.022},{"t":82,"v":1.059},{"t":82.5,"v":1.051},{"t":83,"v":1.039},{"t":83.5,"v":1.043},{"t":84,"v":1.046},{"t":84.5,"v":1.06},{"t":85,"v":1.032},{"t":85.5,"v":1.034},{"t":86,"v":1.057},{"t":86.5,"v":1.031},{"t":87,"v":1.026},{"t":87.5,"v":1.057},{"t":88,"v":1.049},{"t":88.5,"v":1.044},{"t":89,"v":1.059},{"t":89.5,"v":1.068},{"t":90,"v":1.063},{"t":90.5,"v":1.029},{"t":91,"v":1.042},{"t":91.5,"v":1.056},{"t":92,"v":1.071},{"t":92.5,"v":1.065},{"t":93,"v":0.975},{"t":93.5,"v":1.042},{"t":94,"v":1.054},{"t":94.5,"v":1.074},{"t":95,"v":1.031},{"t":95.5,"v":1.035},{"t":96,"v":0.99},{"t":96.5,"v":1.055},{"t":97,"v":1.075},{"t":97.5,"v":1.065},{"t":98,"v":1.047},{"t":98.5,"v":1.042},{"t":99,"v":1.042},{"t":99.5,"v":1.071},{"t":100,"v":1.063},{"t":100.5,"v":1.049},{"t":101,"v":1.036},{"t":101.5,"v":1.036},{"t":102,"v":1.074},{"t":102.5,"v":1.065},{"t":103,"v":0.99},{"t":103.5,"v":1.056},{"t":104,"v":1.063},{"t":104.5,"v":1.073},{"t":105,"v":1.046},{"t":105.5,"v":1.046},{"t":106,"v":1.073},{"t":106.5,"v":1.043},{"t":107,"v":1.04},{"t":107.5,"v":1.068},{"t":108,"v":1.06},{"t":108.5,"v":1.055},{"t":109,"v":1.07},{"t":109.5,"v":1.078},{"t":110,"v":1.073},{"t":110.5,"v":1.039},{"t":111,"v":1.052},{"t":111.5,"v":1.067},{"t":112,"v":1.081},{"t":112.5,"v":1.076},{"t":113,"v":1.044},{"t":113.5,"v":1.054},{"t":114,"v":1.065},{"t":114.5,"v":1.086},{"t":115,"v":1.044},{"t":115.5,"v":1.048},{"t":116,"v":1.076},{"t":116.5,"v":1.068},{"t":117,"v":1.087},{"t":117.5,"v":1.079},{"t":118,"v":1.0},{"t":118.5,"v":1.056},{"t":119,"v":1.059},{"t":119.5,"v":1.086},{"t":120,"v":1.078},{"t":120.5,"v":1.064},{"t":121,"v":1.05},{"t":121.5,"v":1.051},{"t":122,"v":1.089},{"t":122.5,"v":1.08},{"t":123,"v":1.07},{"t":123.5,"v":1.071},{"t":124,"v":1.078},{"t":124.5,"v":1.088},{"t":125,"v":1.064},{"t":125.5,"v":1.061},{"t":126,"v":1.091},{"t":126.5,"v":1.058},{"t":127,"v":1.056},{"t":127.5,"v":1.083},{"t":128,"v":1.075},{"t":128.5,"v":1.07},{"t":129,"v":1.085},{"t":129.5,"v":1.093},{"t":130,"v":1.088},{"t":130.5,"v":1.054},{"t":131,"v":1.067},{"t":131.5,"v":1.081},{"t":132,"v":1.096},{"t":132.5,"v":1.09},{"t":133,"v":1.059},{"t":133.5,"v":1.067},{"t":134,"v":1.079},{"t":134.5,"v":1.099},{"t":135,"v":1.056},{"t":135.5,"v":1.06},{"t":136,"v":1.09},{"t":136.5,"v":1.08},{"t":137,"v":1.101},{"t":137.5,"v":1.09},{"t":138,"v":1.12},{"t":138.5,"v":1.067},{"t":139,"v":1.068},{"t":139.5,"v":1.096},{"t":140,"v":1.088},{"t":140.5,"v":1.074},{"t":141,"v":1.061},{"t":141.5,"v":1.062},{"t":142,"v":1.1},{"t":142.5,"v":1.091},{"t":143,"v":1.065},{"t":143.5,"v":1.083},{"t":144,"v":1.086},{"t":144.5,"v":1.1},{"t":145,"v":1.04},{"t":145.5,"v":1.074},{"t":146,"v":1.098},{"t":146.5,"v":1.071},{"t":147,"v":1.109},{"t":147.5,"v":1.097},{"t":148,"v":1.082},{"t":148.5,"v":1.084},{"t":149,"v":1.076},{"t":149.5,"v":1.108},{"t":150,"v":1.098},{"t":150.5,"v":1.069},{"t":151,"v":1.071},{"t":151.5,"v":1.096},{"t":152,"v":1.11},{"t":152.5,"v":1.105},{"t":153,"v":1.09},{"t":153.5,"v":1.082},{"t":154,"v":1.098},{"t":154.5,"v":1.114},{"t":155,"v":1.085},{"t":155.5,"v":1.075},{"t":156,"v":1.11},{"t":156.5,"v":1.095},{"t":157,"v":1.076},{"t":157.5,"v":1.105},{"t":158,"v":1.095},{"t":158.5,"v":1.082},{"t":159,"v":1.105},{"t":159.5,"v":1.111},{"t":160,"v":1.108}],
"P": [{"t":0,"v":0.98},{"t":0.25,"v":1.0},{"t":0.5,"v":0.95},{"t":0.75,"v":0.97},{"t":1,"v":1.02},{"t":1,"v":0.93},{"t":1.25,"v":0.99},{"t":1.5,"v":0.91},{"t":1.75,"v":0.95},{"t":2,"v":0.99},{"t":2,"v":0.96},{"t":2.25,"v":1.01},{"t":2.5,"v":1.03},{"t":2.75,"v":0.98},{"t":3,"v":0.97},{"t":3,"v":1.06},{"t":3.25,"v":1.02},{"t":3.5,"v":1.0},{"t":3.75,"v":0.96},{"t":4,"v":1.05},{"t":4.25,"v":1.01},{"t":4.5,"v":0.98},{"t":4.75,"v":1.04},{"t":5,"v":1.07},{"t":5,"v":0.97},{"t":5.25,"v":1.0},{"t":5.5,"v":1.02},{"t":5.75,"v":1.06},{"t":6,"v":1.09},{"t":6,"v":1.0},{"t":6.25,"v":1.03},{"t":6.5,"v":0.99},{"t":6.75,"v":1.01},{"t":7,"v":1.04},{"t":7,"v":0.97},{"t":7.25,"v":0.99},{"t":7.5,"v":0.96},{"t":7.75,"v":0.98},{"t":8,"v":1.01},{"t":26.5,"v":0.905},{"t":26.75,"v":0.9},{"t":27,"v":0.878},{"t":27.25,"v":0.876},{"t":27.5,"v":0.86},{"t":27.75,"v":0.855},{"t":28,"v":0.835},{"t":28.25,"v":0.838},{"t":28.5,"v":0.815},{"t":28.75,"v":0.82},{"t":29,"v":0.798},{"t":29.25,"v":0.806},{"t":29.5,"v":0.785},{"t":29.75,"v":0.79},{"t":30,"v":0.77},{"t":30.25,"v":0.778},{"t":30.5,"v":0.758},{"t":30.75,"v":0.762},{"t":31,"v":0.745},{"t":31.25,"v":0.748},{"t":31.5,"v":0.728},{"t":31.75,"v":0.733},{"t":32,"v":0.712},{"t":32.25,"v":0.718},{"t":32.5,"v":0.698},{"t":32.75,"v":0.703},{"t":33,"v":0.684},{"t":33.25,"v":0.688},{"t":33.5,"v":0.668},{"t":33.75,"v":0.672},{"t":34,"v":0.654},{"t":34.25,"v":0.66},{"t":34.5,"v":0.645},{"t":34.75,"v":0.636},{"t":35,"v":0.628},{"t":35.25,"v":0.615},{"t":35.5,"v":0.62},{"t":35.75,"v":0.612},{"t":36,"v":0.602},{"t":36.25,"v":0.592},{"t":36.5,"v":0.594},{"t":36.75,"v":0.585},{"t":37,"v":0.583},{"t":37.25,"v":0.568},{"t":37.5,"v":0.57},{"t":37.75,"v":0.562},{"t":38,"v":0.564},{"t":38.25,"v":0.552},{"t":38.5,"v":0.548},{"t":38.75,"v":0.54},{"t":39,"v":0.545},{"t":39.25,"v":0.534},{"t":39.5,"v":0.528},{"t":39.75,"v":0.52},{"t":40,"v":0.527},{"t":40.25,"v":0.518},{"t":40.5,"v":0.51},{"t":40.75,"v":0.5},{"t":41,"v":0.512},{"t":41.25,"v":0.498},{"t":41.5,"v":0.493},{"t":41.75,"v":0.505},{"t":42,"v":0.5},{"t":42.25,"v":0.485},{"t":42.5,"v":0.478},{"t":42.75,"v":0.47},{"t":43,"v":0.488},{"t":43.25,"v":0.478},{"t":43.5,"v":0.41},{"t":43.75,"v":0.462},{"t":44,"v":0.47},{"t":44.25,"v":0.455},{"t":44.5,"v":0.452},{"t":44.75,"v":0.47},{"t":45,"v":0.463},{"t":45.25,"v":0.445},{"t":45.5,"v":0.438},{"t":45.75,"v":0.455},{"t":46,"v":0.452},{"t":46.25,"v":0.44},{"t":46.5,"v":0.43},{"t":46.75,"v":0.425},{"t":47,"v":0.447},{"t":47.25,"v":0.438},{"t":47.5,"v":0.42},{"t":47.75,"v":0.445},{"t":48,"v":0.44},{"t":48.25,"v":0.415},{"t":48.5,"v":0.418},{"t":48.75,"v":0.43},{"t":49,"v":0.432},{"t":49.25,"v":0.42},{"t":49.5,"v":0.41},{"t":49.75,"v":0.405},{"t":50,"v":0.428},{"t":50.5,"v":0.401},{"t":51,"v":0.43},{"t":51.5,"v":0.425},{"t":52,"v":0.4},{"t":52.5,"v":0.403},{"t":53,"v":0.428},{"t":53.5,"v":0.425},{"t":54,"v":0.381},{"t":54.5,"v":0.374},{"t":55,"v":0.399},{"t":55.5,"v":0.4},{"t":56,"v":0.355},{"t":56.5,"v":0.404},{"t":57,"v":0.398},{"t":57.5,"v":0.373},{"t":58,"v":0.405},{"t":58.5,"v":0.403},{"t":59,"v":0.369},{"t":59.5,"v":0.353},{"t":60,"v":0.355},{"t":60.5,"v":0.37},{"t":61,"v":0.374},{"t":61.5,"v":0.377},{"t":62,"v":0.337},{"t":62.5,"v":0.344},{"t":63,"v":0.375},{"t":63.5,"v":0.373},{"t":64,"v":0.347},{"t":64.5,"v":0.341},{"t":65,"v":0.351},{"t":65.5,"v":0.321},{"t":66,"v":0.327},{"t":66.5,"v":0.348},{"t":67,"v":0.353},{"t":67.5,"v":0.333},{"t":68,"v":0.31},{"t":68.5,"v":0.346},{"t":69,"v":0.325},{"t":69.5,"v":0.31},{"t":70,"v":0.331},{"t":70.5,"v":0.302},{"t":71,"v":0.333},{"t":71.5,"v":0.329},{"t":72,"v":0.306},{"t":72.5,"v":0.31},{"t":73,"v":0.337},{"t":73.5,"v":0.335},{"t":74,"v":0.293},{"t":74.5,"v":0.287},{"t":75,"v":0.314},{"t":75.5,"v":0.316},{"t":76,"v":0.283},{"t":76.5,"v":0.323},{"t":77,"v":0.319},{"t":77.5,"v":0.295},{"t":78,"v":0.329},{"t":78.5,"v":0.328},{"t":79,"v":0.296},{"t":79.5,"v":0.281},{"t":80,"v":0.285},{"t":80.5,"v":0.301},{"t":81,"v":0.307},{"t":81.5,"v":0.311},{"t":82,"v":0.273},{"t":82.5,"v":0.281},{"t":83,"v":0.314},{"t":83.5,"v":0.313},{"t":84,"v":0.289},{"t":84.5,"v":0.284},{"t":85,"v":0.296},{"t":85.5,"v":0.267},{"t":86,"v":0.275},{"t":86.5,"v":0.297},{"t":87,"v":0.345},{"t":87.5,"v":0.286},{"t":88,"v":0.264},{"t":88.5,"v":0.302},{"t":89,"v":0.282},{"t":89.5,"v":0.268},{"t":90,"v":0.291},{"t":90.5,"v":0.262},{"t":91,"v":0.293},{"t":91.5,"v":0.289},{"t":92,"v":0.266},{"t":92.5,"v":0.27},{"t":93,"v":0.297},{"t":93.5,"v":0.295},{"t":94,"v":0.253},{"t":94.5,"v":0.247},{"t":95,"v":0.274},{"t":95.5,"v":0.277},{"t":96,"v":0.244},{"t":96.5,"v":0.284},{"t":97,"v":0.281},{"t":97.5,"v":0.257},{"t":98,"v":0.292},{"t":98.5,"v":0.291},{"t":99,"v":0.26},{"t":99.5,"v":0.245},{"t":100,"v":0.25},{"t":100.5,"v":0.266},{"t":101,"v":0.273},{"t":101.5,"v":0.277},{"t":102,"v":0.24},{"t":102.5,"v":0.249},{"t":103,"v":0.282},{"t":103.5,"v":0.282},{"t":104,"v":0.258},{"t":104.5,"v":0.254},{"t":105,"v":0.266},{"t":105.5,"v":0.237},{"t":106,"v":0.246},{"t":106.5,"v":0.268},{"t":107,"v":0.276},{"t":107.5,"v":0.258},{"t":108,"v":0.237},{"t":108.5,"v":0.274},{"t":109,"v":0.256},{"t":109.5,"v":0.243},{"t":110,"v":0.266},{"t":110.5,"v":0.238},{"t":111,"v":0.269},{"t":111.5,"v":0.266},{"t":112,"v":0.243},{"t":112.5,"v":0.249},{"t":113,"v":0.18},{"t":113.5,"v":0.275},{"t":114,"v":0.233},{"t":114.5,"v":0.227},{"t":115,"v":0.255},{"t":115.5,"v":0.257},{"t":116,"v":0.225},{"t":116.5,"v":0.266},{"t":117,"v":0.263},{"t":117.5,"v":0.24},{"t":118,"v":0.275},{"t":118.5,"v":0.275},{"t":119,"v":0.244},{"t":119.5,"v":0.23},{"t":120,"v":0.235},{"t":120.5,"v":0.252},{"t":121,"v":0.259},{"t":121.5,"v":0.264},{"t":122,"v":0.227},{"t":122.5,"v":0.236},{"t":123,"v":0.27},{"t":123.5,"v":0.27},{"t":124,"v":0.247},{"t":124.5,"v":0.243},{"t":125,"v":0.256},{"t":125.5,"v":0.228},{"t":126,"v":0.237},{"t":126.5,"v":0.26},{"t":127,"v":0.268},{"t":127.5,"v":0.25},{"t":128,"v":0.23},{"t":128.5,"v":0.268},{"t":129,"v":0.25},{"t":129.5,"v":0.237},{"t":130,"v":0.261},{"t":130.5,"v":0.233},{"t":131,"v":0.265},{"t":131.5,"v":0.262},{"t":132,"v":0.24},{"t":132.5,"v":0.245},{"t":133,"v":0.3},{"t":133.5,"v":0.271},{"t":134,"v":0.231},{"t":134.5,"v":0.225},{"t":135,"v":0.254},{"t":135.5,"v":0.254},{"t":136,"v":0.224},{"t":136.5,"v":0.263},{"t":137,"v":0.262},{"t":137.5,"v":0.237},{"t":138,"v":0.272},{"t":138.5,"v":0.272},{"t":139,"v":0.241},{"t":139.5,"v":0.227},{"t":140,"v":0.23},{"t":140.5,"v":0.247},{"t":141,"v":0.254},{"t":141.5,"v":0.259},{"t":142,"v":0.222},{"t":142.5,"v":0.231},{"t":143,"v":0.265},{"t":143.5,"v":0.265},{"t":144,"v":0.242},{"t":144.5,"v":0.238},{"t":145,"v":0.251},{"t":145.5,"v":0.223},{"t":146,"v":0.232},{"t":146.5,"v":0.255},{"t":147,"v":0.203},{"t":147.5,"v":0.245},{"t":148,"v":0.22},{"t":148.5,"v":0.263},{"t":149,"v":0.24},{"t":149.5,"v":0.232},{"t":150,"v":0.251},{"t":150.5,"v":0.223},{"t":151,"v":0.255},{"t":151.5,"v":0.252},{"t":152,"v":0.23},{"t":152.5,"v":0.235},{"t":153,"v":0.263},{"t":153.5,"v":0.262},{"t":154,"v":0.221},{"t":154.5,"v":0.216},{"t":155,"v":0.244},{"t":155.5,"v":0.247},{"t":156,"v":0.215},{"t":156.5,"v":0.256},{"t":157,"v":0.253},{"t":157.5,"v":0.23},{"t":158,"v":0.265},{"t":158.5,"v":0.2},{"t":158.75,"v":0.265},{"t":159,"v":0.234},{"t":159.5,"v":0.28},{"t":159.75,"v":0.227},{"t":160,"v":0.225}]
},
"hconcat": [
 {
  "width": 480, "height": 539,
  "title": {"text": "A", "dx": -66, "dy": 17},
  "encoding": {
   "x": {"field": "t", "type": "quantitative", "scale": {"domain": [0, 120], "nice": false}, "axis": {"values": [0, 20, 40, 60, 80, 100, 120], "labelPadding": 11, "title": "Time (seconds)", "titlePadding": 25}},
   "y": {"field": "v", "type": "quantitative", "scale": {"domain": [0, 9], "nice": false}, "axis": {"values": [0, 1, 2, 3, 4, 5, 6, 7, 8, 9], "labelPadding": 13, "title": "Intensity (a.u.)", "titlePadding": 9}}
  },
  "layer": [
   {"data": {"name": "Q"}, "mark": {"type": "point", "filled": true, "size": 75, "opacity": 1, "strokeWidth": 1},
    "encoding": {
     "fill": {"datum": "Quadruple", "type": "nominal", "scale": {"domain": ["Quadruple", "Double", "Native", "Half", "None"], "range": ["#000000", "#575757", "#a6a6a6", "#777070", "#ffffff"]}, "legend": {"title": null}},
     "stroke": {"datum": "Quadruple", "type": "nominal", "scale": {"domain": ["Quadruple", "Double", "Native", "Half", "None"], "range": ["#000000", "#575757", "#a6a6a6", "#777070", "#808080"]}, "legend": {"title": null}}}},
   {"data": {"name": "D"}, "mark": {"type": "point", "filled": true, "size": 75, "opacity": 1, "strokeWidth": 1},
    "encoding": {"fill": {"datum": "Double", "type": "nominal"}, "stroke": {"datum": "Double", "type": "nominal"}}},
   {"data": {"name": "N"}, "mark": {"type": "point", "filled": true, "size": 75, "opacity": 1, "strokeWidth": 1},
    "encoding": {"fill": {"datum": "Native", "type": "nominal"}, "stroke": {"datum": "Native", "type": "nominal"}}},
   {"data": {"name": "H"}, "mark": {"type": "point", "filled": true, "size": 75, "opacity": 1, "strokeWidth": 1},
    "encoding": {"fill": {"datum": "Half", "type": "nominal"}, "stroke": {"datum": "Half", "type": "nominal"}}},
   {"data": {"name": "O"}, "mark": {"type": "point", "filled": true, "size": 68, "opacity": 1, "strokeWidth": 1},
    "encoding": {"fill": {"datum": "None", "type": "nominal"}, "stroke": {"datum": "None", "type": "nominal"}}}
  ]
 },
 {
  "width": 453, "height": 532,
  "title": {"text": "B", "dx": -77, "dy": 12},
  "encoding": {
   "x": {"field": "t", "type": "quantitative", "scale": {"domain": [0, 160], "nice": false}, "axis": {"values": [0, 20, 40, 60, 80, 100, 120, 140, 160], "labelPadding": 11, "title": "Time (seconds)", "titlePadding": 16}},
   "y": {"field": "v", "type": "quantitative", "scale": {"domain": [0, 1.2], "nice": false}, "axis": {"values": [0, 0.2, 0.4, 0.6, 0.8, 1, 1.2], "format": "~g", "labelPadding": 14, "title": "Normalized intensity (a.u.)", "titlePadding": 13}}
  },
  "layer": [
   {"data": {"name": "G"}, "mark": {"type": "circle", "size": 55, "color": "#000000", "opacity": 1}},
   {"data": {"name": "P"}, "mark": {"type": "circle", "size": 55, "color": "#a5a5a5", "opacity": 1}},
   {"data": {"values": [{"t": 134.5, "v": 1.165, "label": "ATPγS"}, {"t": 131.3, "v": 0.366, "label": "ATP"}]},
    "mark": {"type": "text", "fontSize": 15, "color": "#1a1a1a", "font": "Lato"},
    "encoding": {"text": {"field": "label", "type": "nominal"}}}
  ]
 }
],
"spacing": 166,
"bounds": "flush",
"center": true
}
